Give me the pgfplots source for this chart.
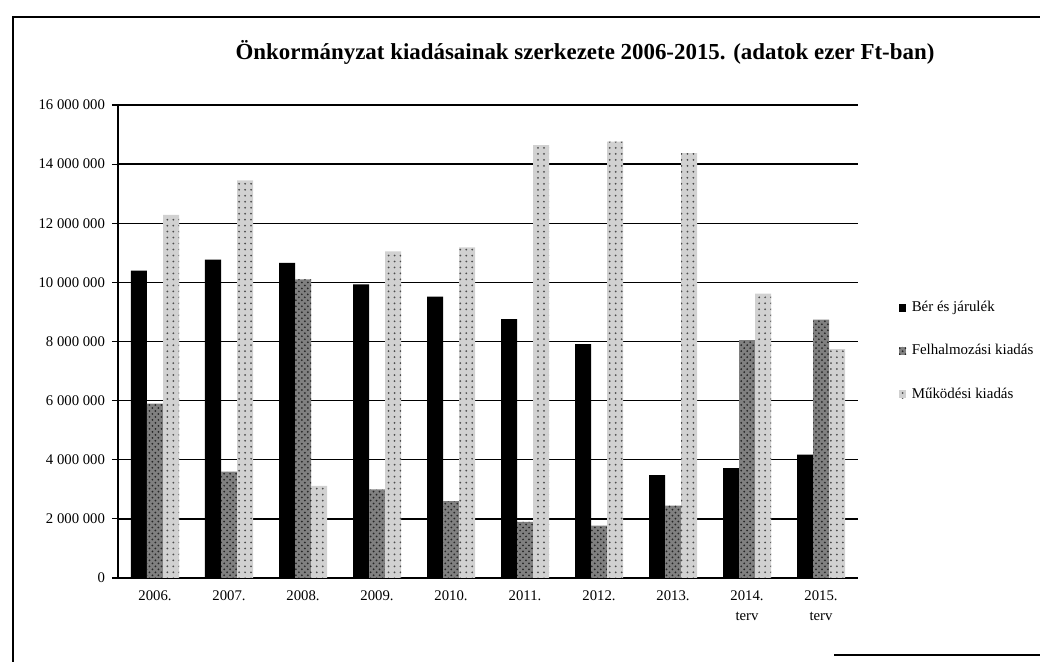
\documentclass[border=0pt]{standalone}
\usepackage{fontspec}
\setmainfont{Liberation Serif}
\usepackage{pgfplots}
\usepackage{pgfplotstable}
\pgfplotsset{compat=1.18}
\usetikzlibrary{patterns}

\pgfplotstableread{
x ber felh muk
0 10400000 5900000 12280000
1 10770000 3600000 13450000
2 10660000 10100000 3120000
3 9930000 3000000 11050000
4 9520000 2600000 11180000
5 8760000 1900000 14640000
6 7910000 1770000 14760000
7 3480000 2450000 14370000
8 3720000 8050000 9620000
9 4170000 8740000 7740000
}\data

\begin{document}
\begin{tikzpicture}
\path[use as bounding box] (0,0) rectangle (520bp,331bp);
% frame of the scanned page
\draw[line width=0.6bp] (6.5bp,0bp) -- (6.5bp,322.5bp) -- (520bp,322.5bp);
\draw[line width=0.6bp] (417bp,3.5bp) -- (520bp,3.5bp);
\begin{axis}[
  at={(59bp,42bp)}, anchor=south west,
  scale only axis, width=370bp, height=236.5bp,
  ybar=0pt, bar width=8bp,
  xmin=-0.5, xmax=9.5,
  ymin=0, ymax=16000000,
  xtick=data,
  xticklabels={2006.,2007.,2008.,2009.,2010.,2011.,2012.,2013.,{2014.\\terv},{2015.\\terv}},
  xticklabel style={align=center, font=\fontsize{7.4}{10}\selectfont},
  xtick style={draw=none},
  ytick={0,2000000,4000000,6000000,8000000,10000000,12000000,14000000,16000000},
  scaled y ticks=false,
  yticklabel style={font=\fontsize{7.4}{9}\selectfont,
    /pgf/number format/.cd, fixed, 1000 sep={\ }, assume math mode=true},
  tick align=outside, major tick length=3bp,
  ytick style={line width=0.6bp, black},
  axis lines*=left,
  axis line style={line width=0.7bp, black},
  ymajorgrids, grid style={line width=0.7bp, black},
  legend style={at={(1.047,0.48)}, anchor=west, draw=none, fill=none,
    font=\fontsize{7.5}{9}\selectfont, row sep=11bp,
    nodes={inner xsep=1bp},
    /tikz/every odd column/.append style={column sep=1.8bp}},
  legend cell align=left,
  legend image code/.code={\fill[#1] (0bp,-2bp) rectangle (3.5bp,2bp);},
]
\addplot[fill=black, draw=none] table[x=x,y=ber] {\data};
\addplot[fill=black!50, draw=none, postaction={pattern=crosshatch dots, pattern color=black!85}] table[x=x,y=felh] {\data};
\addplot[fill=black!18, draw=none, postaction={pattern=dots, pattern color=black!70}] table[x=x,y=muk] {\data};
\legend{Bér és járulék, Felhalmozási kiadás, Működési kiadás}
\end{axis}
\node[font=\bfseries\fontsize{11.5}{13}\selectfont] at (292.5bp,305bp) {Önkormányzat kiadásainak szerkezete 2006-2015. (adatok ezer Ft-ban)};
\end{tikzpicture}
\end{document}
